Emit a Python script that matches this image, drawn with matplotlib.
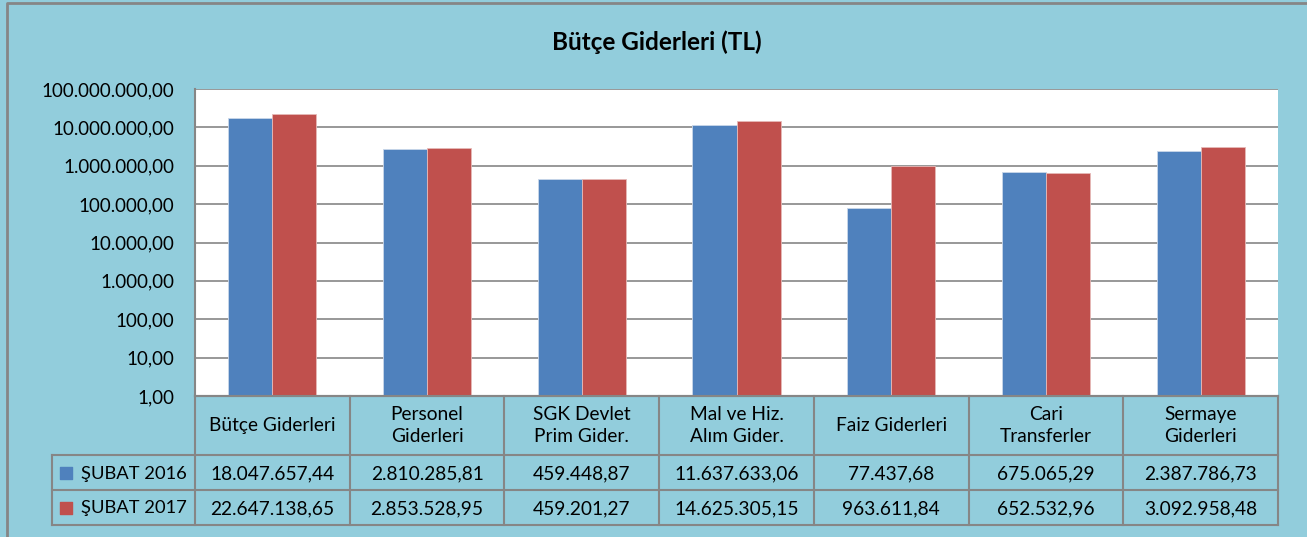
import matplotlib.pyplot as plt
import numpy as np

categories = ['Bütçe Giderleri', 'Personel\nGiderleri', 'SGK Devlet\nPrim Gider.',
              'Mal ve Hiz.\nAlım Gider.', 'Faiz Giderleri', 'Cari\nTransferler',
              'Sermaye\nGiderleri']
series_names = ['ŞUBAT 2016', 'ŞUBAT 2017']
subat_2016 = [18047657.44, 2810285.81, 459448.87, 11637633.06, 77437.68, 675065.29, 2387786.73]
subat_2017 = [22647138.65, 2853528.95, 459201.27, 14625305.15, 963611.84, 652532.96, 3092958.48]
y_ticks = [1, 10, 100, 1e3, 1e4, 1e5, 1e6, 1e7, 1e8]

BG = '#92CDDC'
GRID = '#868686'
colors = ['#4F81BD', '#C0504D']
plt.rcParams['font.family'] = ['Lato', 'DejaVu Sans']

W, H = 1307, 537


def tr_fmt(v):
    s = f'{v:,.2f}'
    return s.replace(',', 'X').replace('.', ',').replace('X', '.')


def px_rect(x0, y0, x1, y1):
    return [x0 / W, 1 - y1 / H, (x1 - x0) / W, (y1 - y0) / H]


fig = plt.figure(figsize=(W / 100, H / 100), dpi=100)
fig.patch.set_facecolor(BG)

# outer border
border = fig.add_axes([0, 0, 1, 1], zorder=-1)
border.set_xlim(0, W)
border.set_ylim(H, 0)
border.axis('off')
border.plot([7, 7, W + 5], [H + 5, 3, 3], color=GRID, lw=2)

fig.text(657 / W, 1 - 42 / H, 'Bütçe Giderleri (TL)', ha='center', va='center',
         fontsize=17.5, fontweight='bold')

# bar axes
ax = fig.add_axes(px_rect(195, 89, 1278, 396))
x = np.arange(len(categories))
bw = 0.285
ax.bar(x - bw / 2, subat_2016, bw, color=colors[0], edgecolor='#C9D7EA', lw=0.6, zorder=3)
ax.bar(x + bw / 2, subat_2017, bw, color=colors[1], edgecolor='#E6B9B8', lw=0.6, zorder=3)
ax.set_yscale('log')
ax.set_ylim(1, 1e8)
ax.set_xlim(-0.5, len(categories) - 0.5)
ax.set_yticks(y_ticks)
ax.set_yticklabels([tr_fmt(v) for v in y_ticks], fontsize=13.5)
ax.minorticks_off()
ax.tick_params(axis='y', length=0, pad=15)
ax.set_xticks([])
ax.grid(axis='y', color=GRID, lw=1.2, zorder=0)
for s in ax.spines.values():
    s.set_color(GRID)
    s.set_linewidth(1.5)
ax.spines['top'].set_visible(False)
ax.spines['right'].set_visible(False)

# data table
tab = fig.add_axes([0, 0, 1, 1], zorder=2)
tab.set_xlim(0, W)
tab.set_ylim(H, 0)
tab.axis('off')
x_left, x0, x1 = 52, 195, 1278
y_rows = [396, 455, 490, 525]
ncol = len(categories)
cw = (x1 - x0) / ncol
lc = dict(color=GRID, lw=1.5)
# vertical lines
for i in range(ncol + 1):
    tab.plot([x0 + i * cw] * 2, [y_rows[0], y_rows[-1]], **lc)
tab.plot([x_left, x_left], [y_rows[1], y_rows[-1]], **lc)
# horizontal lines
tab.plot([x0, x1], [y_rows[0]] * 2, **lc)
for yy in y_rows[1:]:
    tab.plot([x_left, x1], [yy] * 2, **lc)
fs = 13.8
for i, c in enumerate(categories):
    cx = x0 + (i + 0.5) * cw
    tab.text(cx, (y_rows[0] + y_rows[1]) / 2, c, ha='center', va='center',
             fontsize=fs, linespacing=1.3)
    for r, vals in enumerate([subat_2016, subat_2017]):
        tab.text(cx, (y_rows[r + 1] + y_rows[r + 2]) / 2 + 1, tr_fmt(vals[i]),
                 ha='center', va='center', fontsize=fs)
for r, name in enumerate(series_names):
    yc = (y_rows[r + 1] + y_rows[r + 2]) / 2
    tab.scatter([66], [yc], marker='s', s=80, color=colors[r])
    tab.text(81, yc + 1, name, ha='left', va='center', fontsize=13.2)

fig.savefig('out.png', dpi=100, facecolor=BG)
